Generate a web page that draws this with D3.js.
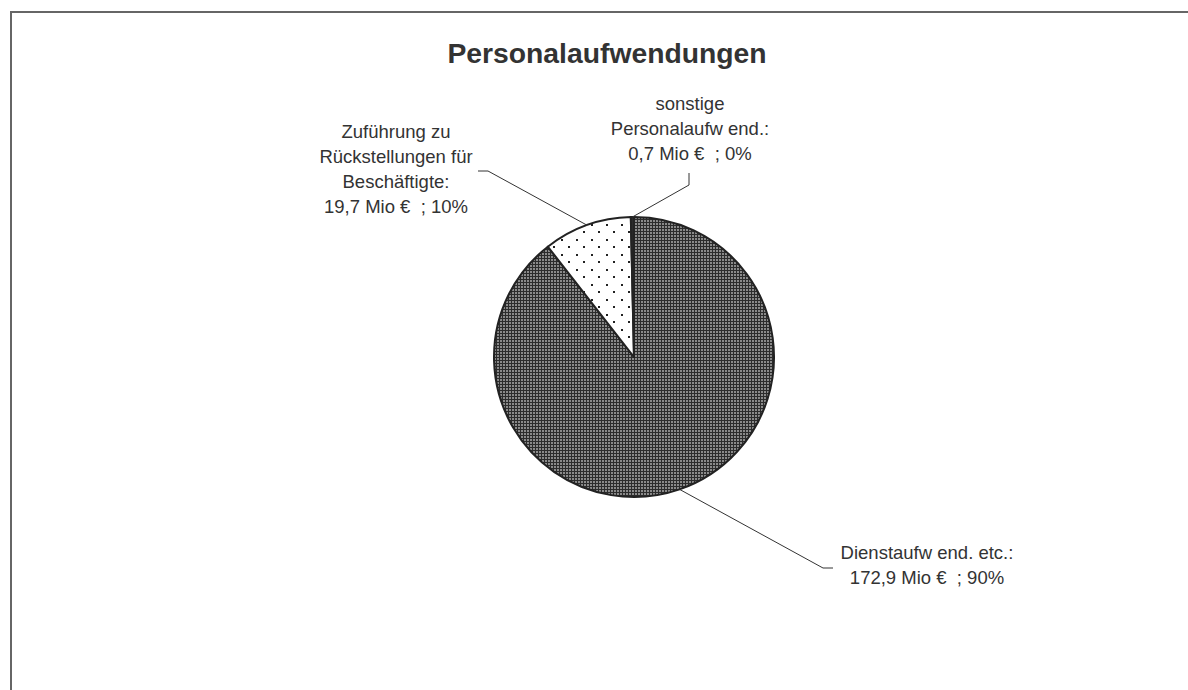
<!DOCTYPE html>
<html>
<head>
<meta charset="utf-8">
<script src="https://cdn.jsdelivr.net/npm/d3@7"></script>
<style>
  html, body { margin: 0; padding: 0; background: #fff; }
  svg { display: block; }
  text { font-family: "Liberation Sans", Arial, sans-serif; white-space: pre; }
</style>
</head>
<body>
<svg id="chart" width="1188" height="690"></svg>
<script>
// ---- data ----
const title = "Personalaufwendungen";
const categories = ["Dienstaufwend. etc.", "Zuführung zu Rückstellungen für Beschäftigte", "sonstige Personalaufwend."];
const values = [172.9, 19.7, 0.7];           // Mio €
const percentLabels = ["90%", "10%", "0%"];
const labelTexts = [
  ["Dienstaufw end. etc.:", "172,9 Mio €  ; 90%"],
  ["Zuführung zu", "Rückstellungen für", "Beschäftigte:", "19,7 Mio €  ; 10%"],
  ["sonstige", "Personalaufw end.:", "0,7 Mio €  ; 0%"]
];

// ---- layout ----
const W = 1188, H = 690;
const cx = 634, cy = 357, R = 140;
const labelLayout = [
  { x: 927, y: 559, elbow: [[833, 568], [823, 568]] },
  { x: 396, y: 138, elbow: [[478, 171], [488, 171]] },
  { x: 690, y: 110, elbow: [[689, 173], [689, 185]] }
];
const lineH = 25;

const svg = d3.select("#chart");
const defs = svg.append("defs");

// dense dark pattern
const p1 = defs.append("pattern").attr("id", "pDark").attr("patternUnits", "userSpaceOnUse")
  .attr("width", 3).attr("height", 3);
p1.append("rect").attr("width", 3).attr("height", 3).attr("fill", "#2c2c2c");
p1.append("rect").attr("x", 1).attr("y", 1).attr("width", 2).attr("height", 2).attr("fill", "#8a8a8a");

// sparse dots pattern
const p2 = defs.append("pattern").attr("id", "pDots").attr("patternUnits", "userSpaceOnUse")
  .attr("width", 15).attr("height", 15);
p2.append("rect").attr("width", 15).attr("height", 15).attr("fill", "#fff");
p2.append("rect").attr("x", 2).attr("y", 2).attr("width", 2).attr("height", 2).attr("fill", "#222");
p2.append("rect").attr("x", 9).attr("y", 9).attr("width", 2).attr("height", 2).attr("fill", "#222");

const fills = ["url(#pDark)", "url(#pDots)", "#2a2a2a"];

// frame
svg.append("rect").attr("x", 11).attr("y", 12).attr("width", W + 20).attr("height", H + 20)
  .attr("fill", "none").attr("stroke", "#666").attr("stroke-width", 2);

// title
svg.append("text").attr("x", 607).attr("y", 63).attr("text-anchor", "middle")
  .attr("font-size", 28.3).attr("font-weight", "bold").attr("fill", "#333").text(title);

// pie
const pie = d3.pie().sort(null).value(d => d).startAngle(0).endAngle(2 * Math.PI);
const arcs = pie(values);
const arc = d3.arc().innerRadius(0).outerRadius(R);
const edgeArc = d3.arc().innerRadius(R).outerRadius(R);

const g = svg.append("g").attr("transform", `translate(${cx},${cy})`);
g.selectAll("path.slice").data(arcs).join("path")
  .attr("class", "slice")
  .attr("d", arc)
  .attr("fill", (d, i) => fills[i])
  .attr("stroke", "#222")
  .attr("stroke-width", 2)
  .attr("stroke-linejoin", "round");

// leader lines
arcs.forEach((d, i) => {
  const c = edgeArc.centroid(d);
  const pts = labelLayout[i].elbow.concat([[cx + c[0], cy + c[1]]]);
  svg.append("path").attr("d", d3.line()(pts))
    .attr("fill", "none").attr("stroke", "#333").attr("stroke-width", 1);
});

// labels
labelTexts.forEach((lines, i) => {
  const t = svg.append("text").attr("text-anchor", "middle")
    .attr("font-size", 18.5).attr("fill", "#333");
  lines.forEach((ln, j) => {
    t.append("tspan").attr("x", labelLayout[i].x).attr("y", labelLayout[i].y + j * lineH).text(ln);
  });
});
</script>
</body>
</html>
